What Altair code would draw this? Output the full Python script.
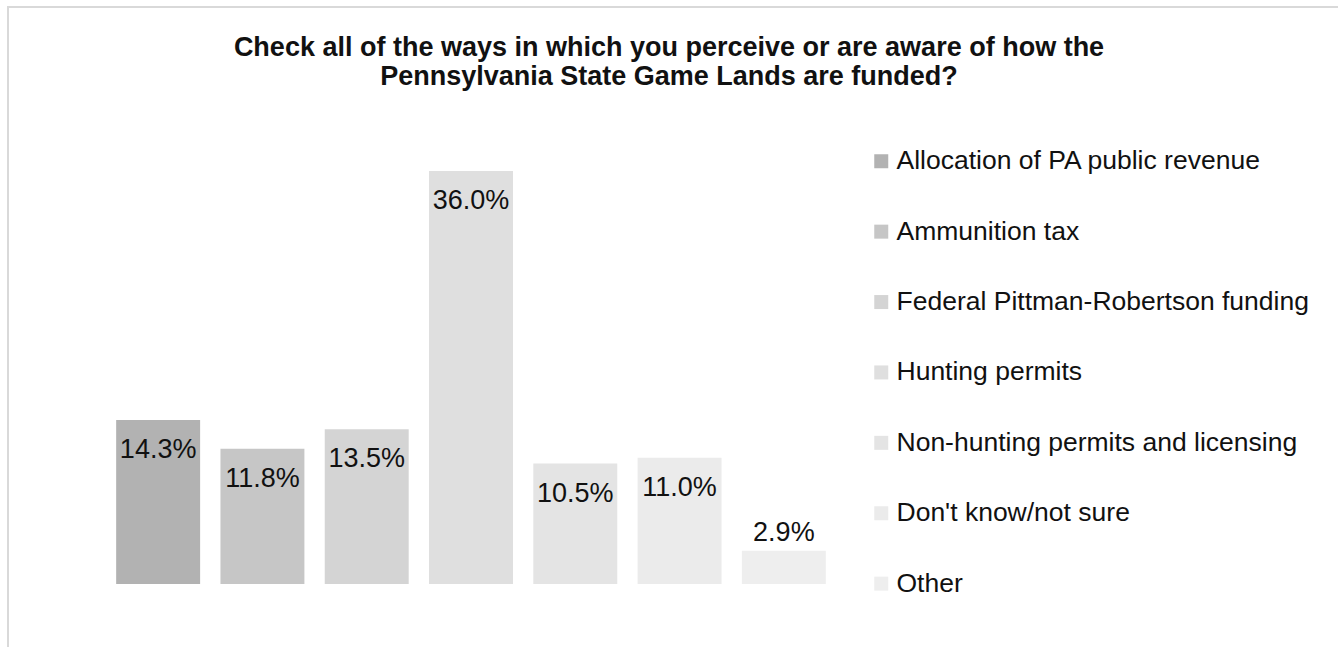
import altair as alt
import pandas as pd

categories = [
    "Allocation of PA public revenue",
    "Ammunition tax",
    "Federal Pittman-Robertson funding",
    "Hunting permits",
    "Non-hunting permits and licensing",
    "Don't know/not sure",
    "Other",
]
values = [14.3, 11.8, 13.5, 36.0, 10.5, 11.0, 2.9]
colors = ["#b2b2b2", "#c6c6c6", "#d4d4d4", "#dfdfdf", "#e4e4e4", "#ebebeb", "#eeeeee"]
title_lines = [
    "Check all of the ways in which you perceive or are aware of how the",
    "Pennsylvania State Game Lands are funded?",
]

FONT = "Liberation Sans"

df = pd.DataFrame({"category": categories, "value": values})
df["label"] = [f"{v:.1f}%" for v in values]

x_enc = alt.X("category:N", sort=categories, axis=None,
              scale=alt.Scale(paddingInner=0.195, paddingOuter=0.0975))
y_scale = alt.Scale(domain=[0, 36], nice=False, zero=True)

base = alt.Chart(df)

bars = base.mark_bar().encode(
    x=x_enc,
    y=alt.Y("value:Q", axis=None, scale=y_scale),
    color=alt.Color(
        "category:N",
        sort=categories,
        scale=alt.Scale(domain=categories, range=colors),
        legend=alt.Legend(
            title=None,
            orient="none",
            legendX=762,
            legendY=-23,
            symbolType="square",
            symbolSize=196,
            symbolStrokeWidth=0,
            labelFont=FONT,
            labelFontSize=26.5,
            labelColor="#111111",
            labelOffset=2,
            rowPadding=43.4,
            padding=0,
            labelLimit=600,
        ),
    ),
)

labels_in = base.transform_filter("datum.value >= 5").mark_text(
    font=FONT, fontSize=27, color="#111111", baseline="middle", dy=30
).encode(
    x=x_enc,
    y=alt.Y("value:Q", scale=y_scale),
    text="label:N",
)

labels_out = base.transform_filter("datum.value < 5").mark_text(
    font=FONT, fontSize=27, color="#111111", baseline="middle", dy=-18
).encode(
    x=x_enc,
    y=alt.Y("value:Q", scale=y_scale),
    text="label:N",
)

frame = alt.Chart(pd.DataFrame({"k": [0]})).mark_rect(
    fill=None, stroke="#d9d9d9", strokeWidth=2, clip=False
).encode(
    x=alt.value(-98), x2=alt.value(1240),
    y=alt.value(-164), y2=alt.value(480),
)

chart = alt.layer(frame, bars, labels_in, labels_out).properties(
    width=730,
    height=413,
    autosize=alt.AutoSizeParams(type="none"),
    padding={"left": 106, "top": 171, "right": 502, "bottom": 63},
    title=alt.TitleParams(
        text=title_lines,
        font=FONT,
        fontSize=27,
        fontWeight="bold",
        color="#111111",
        anchor="middle",
        frame="group",
        dx=198,
        offset=-85,
        lineHeight=29,
    ),
).configure(background="white").configure_view(strokeWidth=0, stroke="transparent")

chart.save("out.html", embed_options={"renderer": "svg", "actions": False})
